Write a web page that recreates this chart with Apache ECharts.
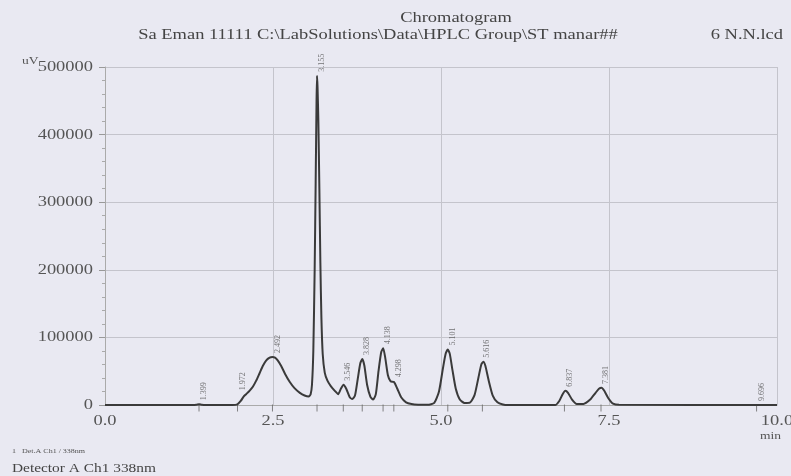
<!DOCTYPE html>
<html><head><meta charset="utf-8">
<script src="https://cdn.jsdelivr.net/npm/echarts@6/dist/echarts.min.js"></script>
<style>html,body{margin:0;padding:0;background:#e9e9f2;}#c{width:791px;height:476px;}</style>
</head><body><div id="c"></div>
<script>
var times = [0.0,1.3,1.36,1.4,1.44,1.5,1.9,1.97,2.02,2.06,2.1,2.15,2.2,2.25,2.3,2.35,2.4,2.45,2.49,2.53,2.57,2.62,2.68,2.75,2.82,2.9,2.97,3.03,3.06,3.08,3.1,3.12,3.135,3.148,3.155,3.163,3.175,3.19,3.205,3.22,3.24,3.27,3.31,3.36,3.42,3.47,3.51,3.55,3.59,3.64,3.68,3.72,3.76,3.8,3.83,3.86,3.9,3.95,3.99,4.03,4.07,4.11,4.14,4.17,4.21,4.25,4.3,4.35,4.41,4.48,4.56,4.66,4.8,4.9,4.97,5.03,5.07,5.1,5.13,5.17,5.22,5.28,5.35,5.43,5.5,5.56,5.6,5.63,5.66,5.71,5.77,5.84,5.92,6.0,6.7,6.76,6.81,6.85,6.89,6.95,7.02,7.12,7.22,7.3,7.35,7.39,7.43,7.49,7.56,7.65,10.0];
var signal = [0,0,300,1000,300,0,0,1000,6000,12000,16000,21000,27000,36000,47000,58000,66000,70000,71000,70000,66000,58000,46000,34000,25000,18000,14000,12500,16000,30000,80000,200000,330000,450000,487000,470000,420000,320000,210000,130000,75000,48000,36000,28000,21000,16000,24000,30000,24000,12000,9000,14000,38000,62000,68000,58000,30000,12000,8000,16000,50000,78000,84000,70000,44000,35000,34000,24000,11000,4000,1500,500,300,3000,20000,55000,76000,82000,76000,52000,24000,8000,3000,3500,15000,42000,60000,64000,58000,36000,14000,4000,800,0,0,6000,16000,21000,18000,8000,1500,1500,8000,18000,24000,25500,21000,10000,2000,200,0];
var peakTimes = [1.399,1.972,2.492,3.155,3.546,3.828,4.138,4.298,5.101,5.616,6.837,7.381,9.696];
var peakHeights = [1000,16000,71000,487000,30000,68000,84000,35000,82000,64000,21000,25000,0];
var peakLabels = ["1.399","1.972","2.492","3.155","3.546","3.828","4.138","4.298","5.101","5.616","6.837","7.381","9.696"];
var yTicks = [0,100000,200000,300000,400000,500000];
var xTicks = [0,2.5,5,7.5,10];
var xTickLabels = ["0.0","2.5","5.0","7.5","10.0"];

var serif = '"Liberation Serif","DejaVu Serif",serif';
var SX = 1.23; // the scanned printout is stretched horizontally
var chart = echarts.init(document.getElementById('c'));
chart.setOption({
  backgroundColor: '#e9e9f2',
  animation: false,
  grid: {left: 105, right: 14, top: 67, bottom: 71},
  xAxis: {
    type: 'value', min: 0, max: 10, interval: 2.5,
    axisLine: {show: true, lineStyle: {color: '#aaa'}},
    axisTick: {show: false},
    splitLine: {show: true, lineStyle: {color: '#c4c4cc', width: 1}},
    axisLabel: {show: false}
  },
  yAxis: {
    type: 'value', min: yTicks[0], max: yTicks[yTicks.length-1], interval: 100000,
    axisLine: {show: true, lineStyle: {color: '#aaa'}},
    axisTick: {show: true, length: 6, lineStyle: {color: '#999'}},
    minorTick: {show: true, splitNumber: 5, length: 3, lineStyle: {color: '#aaa'}},
    splitLine: {show: true, lineStyle: {color: '#c4c4cc', width: 1}},
    axisLabel: {show: false}
  },
  series: [
    {
      type: 'line', data: times.map(function(t,i){return [t, signal[i]];}),
      showSymbol: false, smooth: 0.2,
      lineStyle: {color: '#3a3a3a', width: 2}, z: 3
    },
    {
      type: 'scatter', data: peakTimes.map(function(t,i){return [t, peakHeights[i], peakLabels[i]];}),
      symbolSize: 0,
      label: {show: true, formatter: function(p){return p.data[2];}, rotate: 90, align: 'left', verticalAlign: 'middle',
              position: [5, -4], fontSize: 8, color: '#555', fontFamily: serif},
      z: 4
    },
    {
      type: 'scatter', data: peakTimes.map(function(t){return [t, 0];}),
      symbol: 'rect', symbolSize: [1, 7], symbolOffset: [0, 3],
      itemStyle: {color: '#666'}, z: 2
    }
  ]
});

function txt(s, x, y, size, align, color, sx) {
  return {type: 'text', x: x, y: y, scaleX: sx || SX, scaleY: 1, z: 10,
          style: {text: s, x: 0, y: 0, font: size + 'px ' + serif, fill: color || '#555',
                  align: align || 'left', verticalAlign: 'middle'}};
}
var g = [];
g.push(txt('Chromatogram', 456, 18, 15, 'center', '#444'));
g.push(txt('Sa Eman 11111 C:\\LabSolutions\\Data\\HPLC Group\\ST manar##', 378, 35, 15, 'center', '#444'));
g.push(txt('6 N.N.lcd', 783, 35, 15, 'right', '#444'));
g.push(txt('uV', 22, 61, 11, 'left', '#555'));
g.push(txt('min', 781, 436, 11, 'right', '#555'));
g.push(txt('1   Det.A Ch1 / 338nm', 12, 451, 6.5, 'left', '#555'));
g.push(txt('Detector A Ch1 338nm', 12, 469, 12.5, 'left', '#444'));
yTicks.forEach(function(v){
  var p = chart.convertToPixel({xAxisIndex: 0, yAxisIndex: 0}, [0, v]);
  g.push(txt(String(v), p[0] - 12, p[1], 15, 'right', '#555'));
});
xTicks.forEach(function(v, i){
  var p = chart.convertToPixel({xAxisIndex: 0, yAxisIndex: 0}, [v, 0]);
  g.push(txt(xTickLabels[i], p[0], p[1] + 16, 15, 'center', '#555'));
});
chart.setOption({graphic: g});
</script></body></html>
